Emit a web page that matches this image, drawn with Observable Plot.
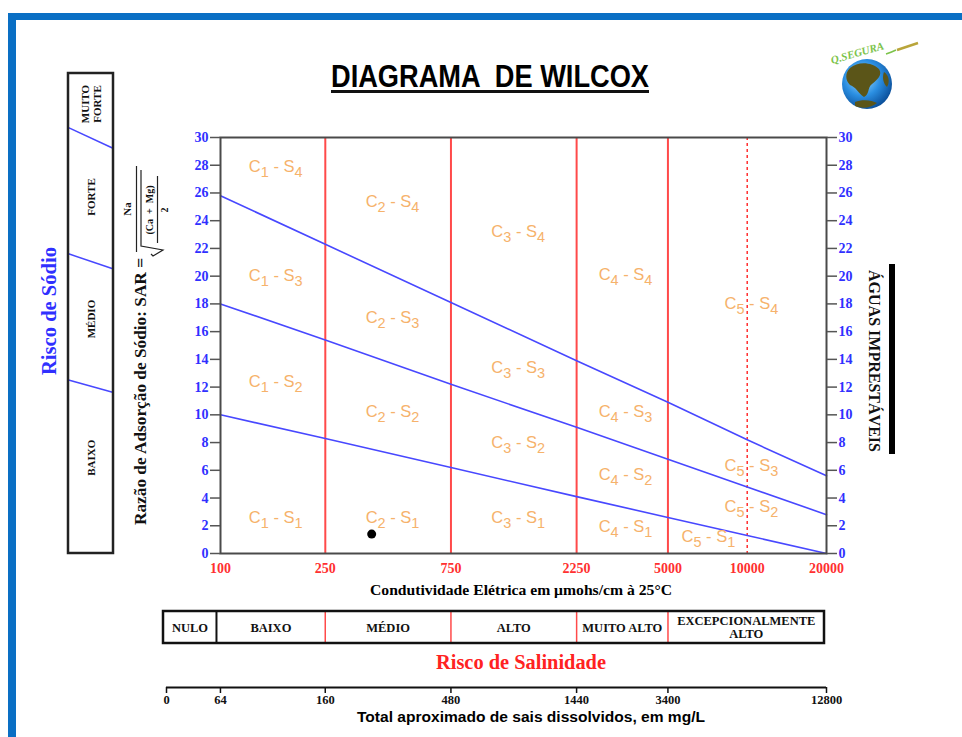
<!DOCTYPE html>
<html><head><meta charset="utf-8">
<script src="https://cdn.jsdelivr.net/npm/d3@7"></script>
<script src="https://cdn.jsdelivr.net/npm/@observablehq/plot@0.6"></script>
<style>
html,body{margin:0;padding:0;background:#fff;}
#page{position:relative;width:962px;height:737px;overflow:hidden;background:#fff;}
#page svg{position:absolute;left:0;top:0;}
</style></head><body><div id="page"></div>
<script>
// ---------------- DATA ----------------
const ecTicks = [100, 250, 750, 2250, 5000, 10000, 20000];           // condutividade (µmhos/cm)
const sarTicks = [0, 2, 4, 6, 8, 10, 12, 14, 16, 18, 20, 22, 24, 26, 28, 30];
const boundaryS1S2 = [10, 8.3, 6.2, 4.1, 2.6, 1.3, 0];
const boundaryS2S3 = [18, 15.4, 12.2, 9.1, 6.8, 4.8, 2.8];
const boundaryS3S4 = [25.8, 22.3, 18.1, 13.9, 10.9, 8.2, 5.6];
const salinityDividers = [250, 750, 2250, 5000];
const dashedDivider = [10000];

const regionNames = ["C1-S4","C1-S3","C1-S2","C1-S1",
                     "C2-S4","C2-S3","C2-S2","C2-S1",
                     "C3-S4","C3-S3","C3-S2","C3-S1",
                     "C4-S4","C4-S3","C4-S2","C4-S1",
                     "C5-S4","C5-S3","C5-S2","C5-S1"];
const regionEC  = [162,162,162,162, 450,450,450,450, 1350,1350,1350,1350, 3450,3450,3450,3450, 10370,10370,10370,7120];
const regionSAR = [27.9,20.0,12.4,2.6, 25.4,17.0,10.2,2.6, 23.2,13.4,8.0,2.6, 20.1,10.2,5.7,1.9, 18.0,6.3,3.4,1.2];

const sampleEC = [375];
const sampleSAR = [1.4];

const sodiumClasses = ["BAIXO", "MÉDIO", "FORTE", "MUITO\nFORTE"];
const sodiumLabelSAR = [6.9, 16.9, 25.7, 32.4];
const sodiumBoundsLeft = [12.5, 21.6, 30.7];
const sodiumBoundsRight = [11.6, 20.5, 29.2];
const sodiumPanelTop = 34.6;

const salinityClasses = ["NULO", "BAIXO", "MÉDIO", "ALTO", "MUITO ALTO", "EXCEPCIONALMENTE\nALTO"];
const salinityEdges = [60.8, 96.6, 250, 750, 2250, 5000, 19640];

const tdsLabels = ["0", "64", "160", "480", "1440", "3400", "12800"];
const tdsAtEC = [62.4, 100, 250, 750, 2250, 5000, 20000];

// ---------------- SETUP ----------------
const W = 962, H = 737;
const page = document.getElementById("page");
const serif = "'Liberation Serif','Times New Roman',serif";
const sans = "'Liberation Sans',Arial,sans-serif";
const BLUE = "#3030ff", RED = "#ff3030", LINEBLUE = "#4848ff", ORANGE = "#f6b26b";

// ---------------- DECORATION ----------------
const deco = d3.select(page).append("svg").attr("width", W).attr("height", H);
deco.append("rect").attr("x", 8).attr("y", 13).attr("width", W).attr("height", 7).attr("fill", "#0a6fc4");
deco.append("rect").attr("x", 8).attr("y", 13).attr("width", 8).attr("height", H).attr("fill", "#0a6fc4");

// title
deco.append("text").attr("x", 490).attr("y", 87).attr("text-anchor", "middle")
  .attr("font-family", sans).attr("font-weight", "bold").attr("font-size", 31)
  .attr("textLength", 318).attr("lengthAdjust", "spacingAndGlyphs")
  .style("white-space", "pre").text("DIAGRAMA  DE WILCOX");
deco.append("rect").attr("x", 331).attr("y", 90).attr("width", 318).attr("height", 3).attr("fill", "#111");

// logo
const defs = deco.append("defs");
const grad = defs.append("radialGradient").attr("id", "globe").attr("cx", "40%").attr("cy", "38%").attr("r", "65%");
grad.append("stop").attr("offset", "0%").attr("stop-color", "#a9e1ff");
grad.append("stop").attr("offset", "55%").attr("stop-color", "#2b8fe2");
grad.append("stop").attr("offset", "100%").attr("stop-color", "#0b4f9a");
deco.append("circle").attr("cx", 867).attr("cy", 84).attr("r", 25).attr("fill", "url(#globe)");
const land = "#5b5518";
deco.append("path").attr("fill", land).attr("d", "M850,68 C858,61 872,62 879,69 C883,75 877,80 872,84 C867,88 870,94 864,97 C858,93 856,87 850,85 C845,80 845,73 850,68 Z");
deco.append("path").attr("fill", land).attr("d", "M855,102 C862,99 872,100 877,103 C871,108 862,109 855,106 Z");
deco.append("path").attr("fill", land).attr("d", "M884,72 C889,75 890,82 887,87 C883,83 882,77 884,72 Z");
deco.append("text").attr("x", 832).attr("y", 64).attr("transform", "rotate(-16 832 64)")
  .attr("font-family", serif).attr("font-style", "italic").attr("font-weight", "bold").attr("font-size", 11).attr("fill", "#7cc34a")
  .text("Q.SEGURA");
deco.append("path").attr("fill", "none").attr("stroke", "#7cc34a").attr("stroke-width", 1.5).attr("d", "M886,54 q6,-2 10,-4");
deco.append("line").attr("x1", 897).attr("y1", 50).attr("x2", 918).attr("y2", 43).attr("stroke", "#b9a53a").attr("stroke-width", 2.5);

// rotated labels, left
function rtext(x, y, angle, txt, opts) {
  const t = deco.append("text").attr("transform", `translate(${x},${y}) rotate(${angle})`)
    .attr("text-anchor", opts.anchor || "middle").attr("font-family", opts.family || serif)
    .attr("font-weight", opts.weight || "bold").attr("font-size", opts.size).attr("fill", opts.fill || "#111");
  if (opts.len) t.attr("textLength", opts.len).attr("lengthAdjust", "spacingAndGlyphs");
  if (opts.baseline) t.attr("dominant-baseline", opts.baseline);
  t.text(txt);
  return t;
}
rtext(56, 311, -90, "Risco de Sódio", {size: 20, fill: BLUE, len: 128});
rtext(146, 525, -90, "Razão de Adsorção de Sódio: SAR =", {size: 16, anchor: "start", len: 267});
// SAR formula
rtext(127, 209, -90, "Na", {size: 11, baseline: "central"});
deco.append("line").attr("x1", 136.5).attr("x2", 136.5).attr("y1", 166).attr("y2", 252).attr("stroke", "#222").attr("stroke-width", 1.2);
deco.append("polyline").attr("fill", "none").attr("stroke", "#222").attr("stroke-width", 1.2)
  .attr("points", "141,170 141,246 163,250 153,256 151,254");
rtext(149, 210, -90, "(Ca  +  Mg)", {size: 10, baseline: "central"}).style("white-space", "pre");
deco.append("line").attr("x1", 157.5).attr("x2", 157.5).attr("y1", 176).attr("y2", 243).attr("stroke", "#222").attr("stroke-width", 1.2);
rtext(164, 210, -90, "2", {size: 10, baseline: "central"});

// right label
rtext(869, 361, 90, "ÁGUAS IMPRESTÁVEIS", {size: 16, len: 182});
deco.append("rect").attr("x", 889).attr("y", 264).attr("width", 6).attr("height", 190).attr("fill", "#000");

// bottom labels
deco.append("text").attr("x", 521).attr("y", 595).attr("text-anchor", "middle")
  .attr("font-family", serif).attr("font-weight", "bold").attr("font-size", 15)
  .attr("textLength", 302).attr("lengthAdjust", "spacingAndGlyphs")
  .text("Condutividade Elétrica em μmohs/cm à 25°C");
deco.append("text").attr("x", 521).attr("y", 669).attr("text-anchor", "middle")
  .attr("font-family", serif).attr("font-weight", "bold").attr("font-size", 20).attr("fill", "#ff2222")
  .attr("textLength", 170).attr("lengthAdjust", "spacingAndGlyphs")
  .text("Risco de Salinidade");
deco.append("text").attr("x", 531).attr("y", 722).attr("text-anchor", "middle")
  .attr("font-family", sans).attr("font-weight", "bold").attr("font-size", 14)
  .attr("textLength", 348).attr("lengthAdjust", "spacingAndGlyphs")
  .text("Total aproximado de sais dissolvidos, em mg/L");

// ---------------- MAIN CHART ----------------
const rows = [];
[boundaryS1S2, boundaryS2S3, boundaryS3S4].forEach((arr, k) =>
  arr.forEach((v, j) => rows.push({ec: ecTicks[j], sar: v, line: k})));
const regions = regionNames.map((n, i) => ({name: n, ec: regionEC[i], sar: regionSAR[i]}));
const samples = sampleEC.map((e, i) => ({ec: e, sar: sampleSAR[i]}));
const baseStyle = {background: "transparent", fontFamily: serif, fontWeight: "bold", fontSize: "14px", overflow: "visible"};

const main = Plot.plot({
  width: W, height: H,
  marginLeft: 220, marginRight: 136, marginTop: 137, marginBottom: 184,
  x: {type: "log", domain: [100, 20000], axis: null},
  y: {domain: [0, 30], axis: null},
  style: baseStyle,
  marks: [
    Plot.ruleX(salinityDividers, {stroke: "#ff4a4a", strokeWidth: 2}),
    Plot.ruleX(dashedDivider, {stroke: RED, strokeWidth: 1.5, strokeDasharray: "3,3"}),
    Plot.line(rows, {x: "ec", y: "sar", z: "line", stroke: LINEBLUE, strokeWidth: 1.6}),
    Plot.frame({stroke: "#4a4a4a", strokeWidth: 2}),
    Plot.text(regions, {x: "ec", y: "sar", text: "name", fill: ORANGE, fontFamily: sans, fontWeight: "normal", fontSize: 16.5}),
    Plot.dot(samples, {x: "ec", y: "sar", r: 4.5, fill: "#000"}),
    Plot.axisY({anchor: "left", ticks: sarTicks, tickSize: 10, tickPadding: 2, stroke: "#555", strokeWidth: 1.5, fill: BLUE, fontSize: 14, tickFormat: d => String(d), label: null}),
    Plot.axisY({anchor: "right", ticks: sarTicks, tickSize: 10, tickPadding: 2, stroke: "#555", strokeWidth: 1.5, fill: BLUE, fontSize: 14, tickFormat: d => String(d), label: null}),
    Plot.text(ecTicks, {x: d => d, frameAnchor: "bottom", lineAnchor: "top", dy: 10, text: d => String(d), fill: RED, fontSize: 14})
  ]
});
page.appendChild(main);
d3.select(main).selectAll("text")
  .filter(function () { return /^C\d-S\d$/.test(this.textContent); })
  .each(function () {
    const t = this.textContent, s = d3.select(this);
    s.text("");
    s.append("tspan").text("C");
    s.append("tspan").attr("dy", 5).attr("font-size", 14.5).text(t[1]);
    s.append("tspan").attr("dy", -5).text(" - S");
    s.append("tspan").attr("dy", 5).attr("font-size", 14.5).text(t[4]);
  });

// ---------------- SODIUM PANEL ----------------
const panel = Plot.plot({
  width: W, height: H, margin: 0,
  x: {domain: [0, 1], range: [68, 113], axis: null},
  y: {domain: [0, sodiumPanelTop], range: [553, 73], axis: null},
  style: baseStyle,
  marks: [
    Plot.link(sodiumBoundsLeft.map((v, i) => ({a: 0, b: 1, l: v, r: sodiumBoundsRight[i]})),
      {x1: "a", x2: "b", y1: "l", y2: "r", stroke: LINEBLUE, strokeWidth: 1.6}),
    Plot.rect([{a: 0, b: 1, lo: 0, hi: sodiumPanelTop}], {x1: "a", x2: "b", y1: "lo", y2: "hi", fill: "none", stroke: "#222", strokeWidth: 2.5}),
    Plot.text(sodiumClasses.map((n, i) => ({n, c: 0.5, s: sodiumLabelSAR[i]})),
      {x: "c", y: "s", text: "n", rotate: -90, fontSize: 11, fill: "#111", lineHeight: 1.1})
  ]
});
page.appendChild(panel);

// ---------------- SALINITY TABLE ----------------
const cells = salinityClasses.map((n, i) => ({n, mid: Math.sqrt(salinityEdges[i] * salinityEdges[i + 1]), y: 0.5}));
const table = Plot.plot({
  width: W, height: H, margin: 0,
  x: {type: "log", domain: [salinityEdges[0], salinityEdges[salinityEdges.length - 1]], range: [163, 824], axis: null},
  y: {domain: [0, 1], range: [643, 611], axis: null},
  style: baseStyle,
  marks: [
    Plot.ruleX(salinityEdges.slice(2, -1).map(e => ({e, lo: 0, hi: 1})), {x: "e", y1: "lo", y2: "hi", stroke: "#ff4a4a", strokeWidth: 1.5}),
    Plot.ruleX([{e: salinityEdges[1], lo: 0, hi: 1}], {x: "e", y1: "lo", y2: "hi", stroke: "#111", strokeWidth: 2}),
    Plot.rect([{a: salinityEdges[0], b: salinityEdges[salinityEdges.length - 1], lo: 0, hi: 1}],
      {x1: "a", x2: "b", y1: "lo", y2: "hi", fill: "none", stroke: "#111", strokeWidth: 2.5}),
    Plot.text(cells, {x: "mid", y: "y", text: "n", fontSize: 12.5, fill: "#111", lineHeight: 1.0})
  ]
});
page.appendChild(table);

// ---------------- TDS SCALE ----------------
const tdsRows = tdsAtEC.map((e, i) => ({e, label: tdsLabels[i]}));
const tds = Plot.plot({
  width: W, height: H, marginLeft: 166, marginRight: 136, marginTop: 600, marginBottom: 50,
  x: {type: "log", domain: [tdsAtEC[0], tdsAtEC[tdsAtEC.length - 1]]},
  y: {domain: [0, 1], range: [687, 677], axis: null},
  style: baseStyle,
  marks: [
    Plot.ruleY([{v: 0, a: tdsAtEC[0], b: tdsAtEC[tdsAtEC.length - 1]}], {y: "v", x1: "a", x2: "b", stroke: "#111", strokeWidth: 2}),
    Plot.axisX({anchor: "bottom", ticks: tdsAtEC, tickFormat: () => "", tickSize: 6, stroke: "#111", strokeWidth: 1.5, label: null}),
    Plot.text(tdsRows, {x: "e", frameAnchor: "bottom", lineAnchor: "top", dy: 8, text: "label", fill: "#111", fontSize: 12.5})
  ]
});
page.appendChild(tds);
</script></body></html>
